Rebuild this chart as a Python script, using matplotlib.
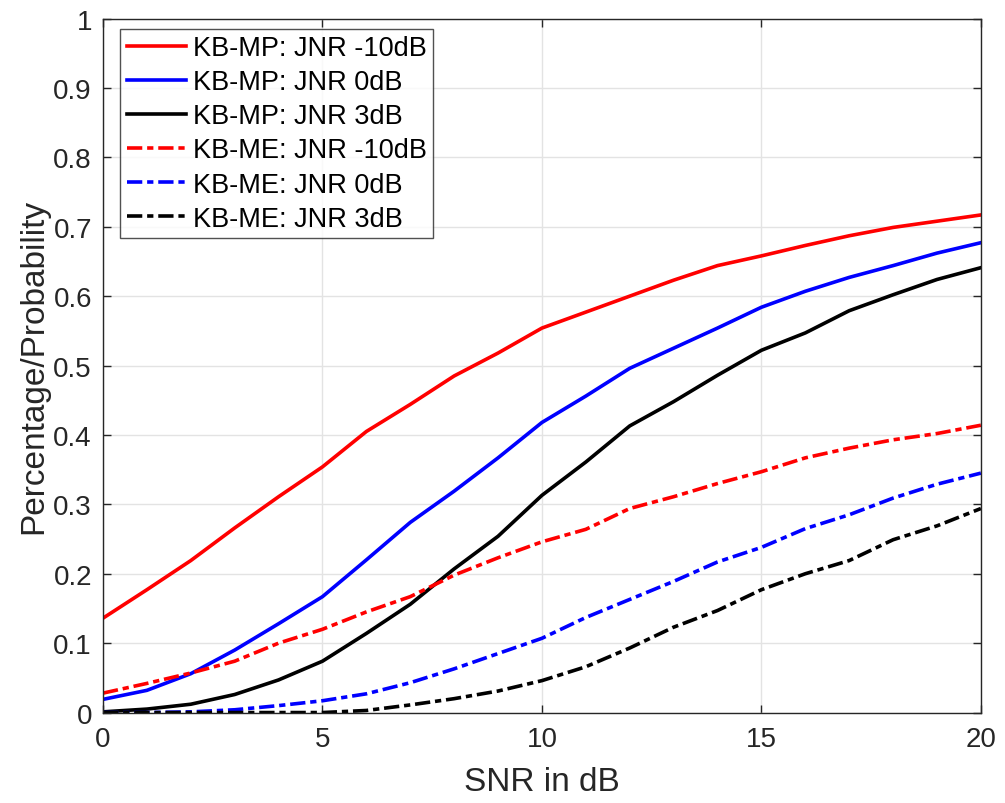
import matplotlib
matplotlib.use('Agg')
import matplotlib.pyplot as plt
import numpy as np

plt.rcParams['font.family'] = ['Liberation Sans', 'DejaVu Sans']
plt.rcParams['lines.scale_dashes'] = False

# SNR axis
snr = list(range(0, 21))

# KB-MP curves
mp_m10 = [0.136, 0.177, 0.219, 0.266, 0.311, 0.354, 0.405, 0.444, 0.485, 0.518, 0.554,
          0.577, 0.600, 0.623, 0.644, 0.658, 0.673, 0.687, 0.699, 0.708, 0.717]
mp_0 = [0.019, 0.032, 0.056, 0.090, 0.128, 0.167, 0.220, 0.274, 0.319, 0.367, 0.418,
        0.456, 0.496, 0.525, 0.554, 0.584, 0.607, 0.627, 0.644, 0.662, 0.677]
mp_3 = [0.001, 0.005, 0.012, 0.026, 0.047, 0.074, 0.114, 0.156, 0.207, 0.254, 0.313,
        0.361, 0.413, 0.448, 0.486, 0.522, 0.547, 0.579, 0.602, 0.624, 0.641]

# KB-ME curves
me_m10 = [0.028, 0.042, 0.057, 0.074, 0.100, 0.120, 0.145, 0.167, 0.198, 0.223, 0.246,
          0.264, 0.294, 0.311, 0.330, 0.347, 0.367, 0.381, 0.393, 0.402, 0.414]
me_0 = [0.000, 0.000, 0.001, 0.004, 0.010, 0.017, 0.027, 0.043, 0.063, 0.085, 0.107,
        0.137, 0.163, 0.189, 0.217, 0.238, 0.265, 0.285, 0.309, 0.329, 0.345]
me_3 = [0.000, 0.000, 0.000, 0.000, 0.000, 0.000, 0.003, 0.011, 0.020, 0.031, 0.046,
        0.066, 0.093, 0.123, 0.147, 0.177, 0.200, 0.219, 0.249, 0.269, 0.294]

labels = ['KB-MP: JNR -10dB', 'KB-MP: JNR 0dB', 'KB-MP: JNR 3dB',
          'KB-ME: JNR -10dB', 'KB-ME: JNR 0dB', 'KB-ME: JNR 3dB']

fig = plt.figure(figsize=(10.05, 8.04), dpi=100)
ax = fig.add_axes([0.1025, 0.1125, 0.8735, 0.8632])

lw = 2.6
dd = (11, 3.5, 4.5, 3.5)
ax.plot(snr, mp_m10, color='red', lw=lw, label=labels[0])
ax.plot(snr, mp_0, color='blue', lw=lw, label=labels[1])
ax.plot(snr, mp_3, color='black', lw=lw, label=labels[2])
ax.plot(snr, me_m10, color='red', lw=lw, dashes=dd, label=labels[3])
ax.plot(snr, me_0, color='blue', lw=lw, dashes=dd, label=labels[4])
ax.plot(snr, me_3, color='black', lw=lw, dashes=dd, label=labels[5])

ax.set_xlim(0, 20)
ax.set_ylim(0, 1)
ax.set_xticks([0, 5, 10, 15, 20])
yt = np.round(np.arange(0, 1.01, 0.1), 1)
ax.set_yticks(yt)
ax.set_yticklabels(['0'] + [f'{v:g}' for v in yt[1:-1]] + ['1'])

ax.grid(True, color='#e3e3e3', lw=1)
ax.set_axisbelow(True)
for s in ax.spines.values():
    s.set_color('#262626')
    s.set_linewidth(1.0)
ax.tick_params(direction='in', top=True, right=True, length=6, width=1,
               colors='#262626', labelsize=20)
ax.tick_params(axis='y', pad=8)
ax.tick_params(axis='x', pad=10)
ax.set_xlabel('SNR in dB', fontsize=24, color='#262626', labelpad=10)
ax.set_ylabel('Percentage/Probability', fontsize=24, color='#262626', labelpad=3)

leg = ax.legend(loc='upper left', bbox_to_anchor=(17 / 878, 1 - 10 / 694),
                borderaxespad=0, fontsize=19.5, frameon=True, fancybox=False,
                edgecolor='#262626', borderpad=0.24, labelspacing=0.30,
                handlelength=2.2, handletextpad=0.25)
leg.get_frame().set_linewidth(1.0)

fig.savefig('out.png', dpi=100)
